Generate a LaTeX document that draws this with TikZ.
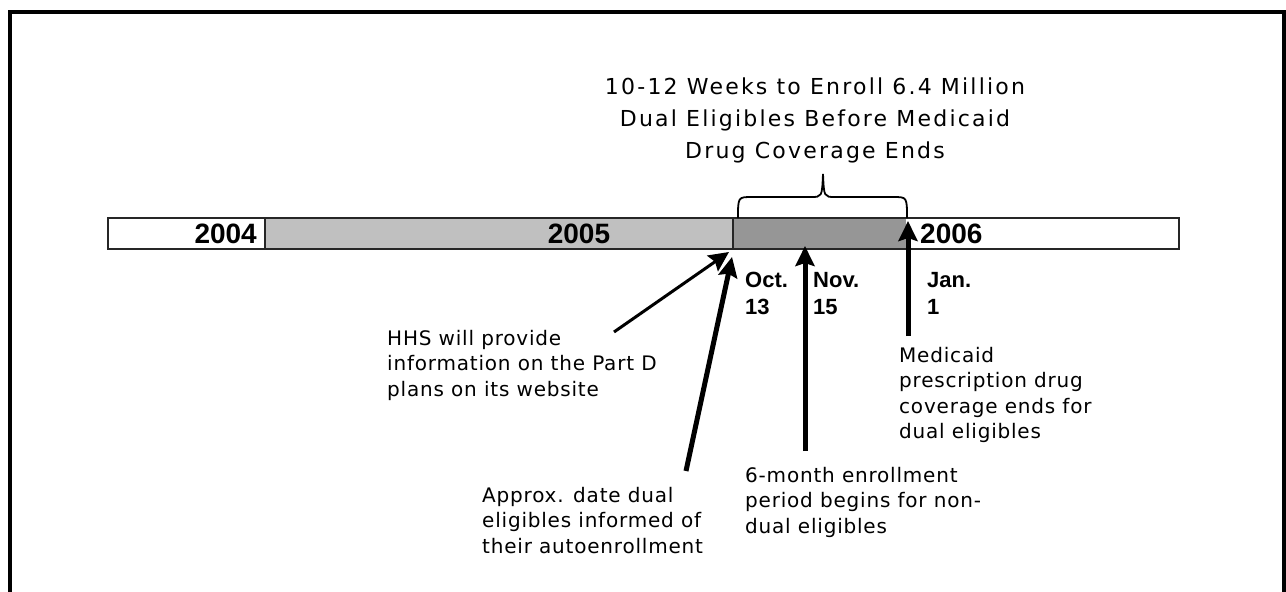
\documentclass[tikz,border=0pt]{standalone}
\usepackage{fontspec}
\setmainfont{DejaVu Sans}
\newfontfamily\titlefont[LetterSpace=10]{DejaVu Sans}
\newfontfamily\notefont[LetterSpace=4]{DejaVu Sans}
\newfontfamily\yearfont{Liberation Sans}
\usetikzlibrary{positioning}
\usetikzlibrary{arrows.meta}
\definecolor{lightbar}{RGB}{192,192,192}
\definecolor{darkbar}{RGB}{150,150,150}
\tikzset{>={Stealth[length=20pt,width=19pt,inset=3pt]}}
\tikzset{note/.style={anchor=north west, align=left, inner sep=0pt, font=\notefont\fontsize{20}{25.5}\selectfont}}
\tikzset{yearlbl/.style={inner sep=0pt, font=\yearfont\bfseries\fontsize{28}{28}\selectfont}}
\tikzset{datelbl/.style={anchor=north west, align=left, inner sep=0pt, font=\yearfont\bfseries\fontsize{22}{27}\selectfont}}
\tikzset{pointer/.style={->, line width=5pt}}

\begin{document}
\begin{tikzpicture}[x=1pt,y=-1pt]
\useasboundingbox (0,0) rectangle (1286,592);
\draw[line width=4pt] (10,592) -- (10,12) -- (1284,12) -- (1284,592);

\fill[lightbar] (265,218) rectangle (733,249);
\fill[darkbar] (733,218) rectangle (906,249);
\draw[line width=2pt, black!85] (108,218) rectangle (1179,249);
\draw[line width=2pt, black!85] (265,218) -- (265,249);
\draw[line width=2pt, black!85] (733,218) -- (733,249);

\node (y2004) [yearlbl, anchor=base east] at (257,243.5) {2004};
\node (y2005) [yearlbl, anchor=base] at (579,243.5) {2005};
\node (y2006) [yearlbl, anchor=base west] at (920,243.5) {2006};

\draw[line width=1.8pt] (738,218) .. controls (738,197) .. (752,197) -- (811,197)
  .. controls (822,197) .. (823,174) .. controls (824,197) .. (835,197) -- (893,197)
  .. controls (907,197) .. (907,218);
\node (weeks) [anchor=north, align=center, inner sep=0pt,
  font=\titlefont\fontsize{22}{32}\selectfont] at (815,78)
  {10-12 Weeks to Enroll 6.4 Million\\Dual Eligibles Before Medicaid\\Drug Coverage Ends};

\node (oct) [datelbl] at (745,272) {Oct.\\13};
\node (nov) [datelbl] at (813,272) {Nov.\\15};
\node (jan) [datelbl] at (927,272) {Jan.\\1};

\node (hhs) [note] at (387,330) {HHS will provide\\information on the Part D\\plans on its website};
\node (approx) [note] at (482,487) {Approx. date dual\\eligibles informed of\\their autoenrollment};
\node (sixmonth) [note] at (745,467) {6-month enrollment\\period begins for non-\\dual eligibles};
\node (medicaid) [note] at (899,347) {Medicaid\\prescription drug\\coverage ends for\\dual eligibles};

\coordinate (hhsTail) at (614,332);
\coordinate (hhsTip) at (729,252);
\coordinate (approxTail) at (686,471);
\coordinate (approxTip) at (732,257);
\coordinate (novTail) at (805,451);
\coordinate (novTip) at (805,246);
\coordinate (janTail) at (908,336);
\coordinate (janTip) at (908,221);

\draw[->, line width=3pt] (hhsTail) -- (hhsTip);
\draw[pointer] (approxTail) -- (approxTip);
\draw[pointer] (novTail) -- (novTip);
\draw[pointer] (janTail) -- (janTip);
\end{tikzpicture}
\end{document}
